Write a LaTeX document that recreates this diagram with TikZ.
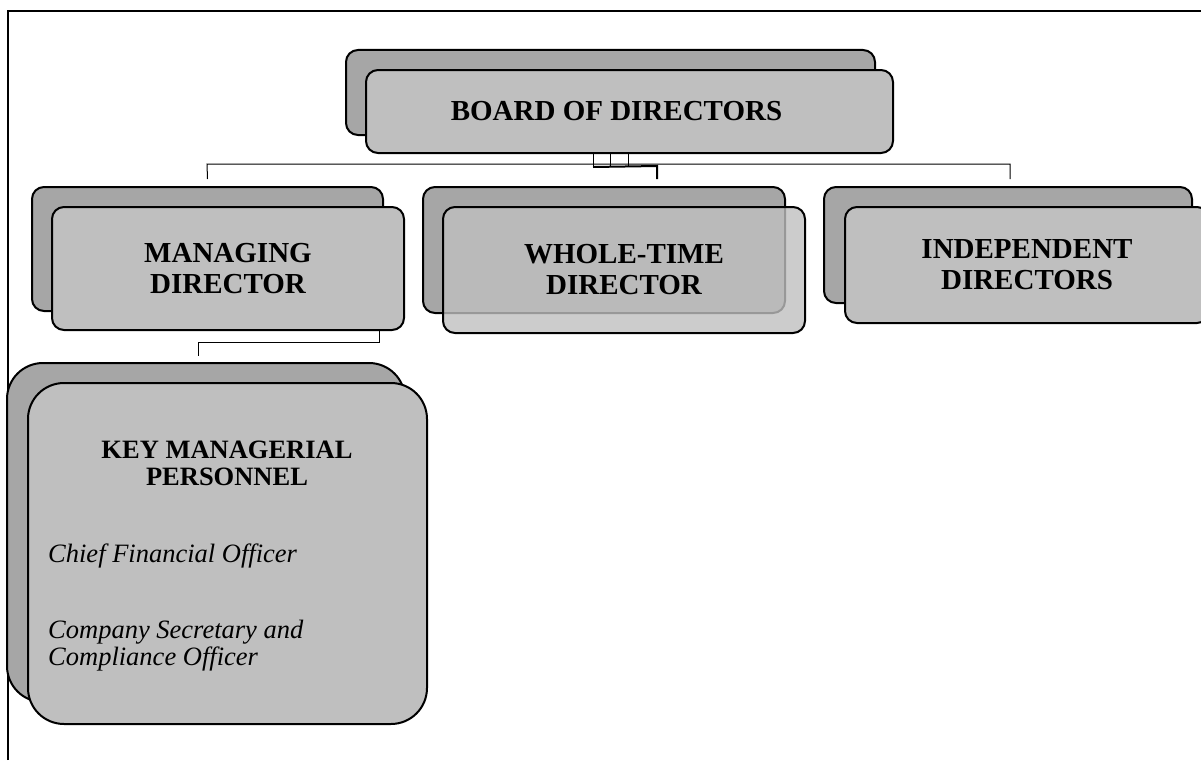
\documentclass[tikz,border=0pt]{standalone}
\usepackage{fontspec}
\setmainfont{Liberation Serif}
\usetikzlibrary{calc}
\definecolor{backgray}{HTML}{A6A6A6}
\definecolor{frontgray}{HTML}{BFBFBF}
\tikzset{
  backbox/.style={draw=black, line width=2pt, fill=backgray, rounded corners=12pt, inner sep=0pt},
  frontbox/.style={draw=black, line width=2pt, fill=frontgray, rounded corners=12pt, inner sep=0pt,
    align=center, font=\fontsize{29}{31}\selectfont\bfseries},
  bigback/.style={backbox, rounded corners=36pt},
  bigfront/.style={frontbox, rounded corners=36pt},
  link/.style={draw=black, line width=1pt},
  thicklink/.style={draw=black, line width=2pt},
  frameline/.style={draw=black, line width=2pt},
}
\begin{document}
\begin{tikzpicture}[x=1pt, y=-1pt]
\useasboundingbox (0,0) rectangle (1201,760);
% frame
\coordinate (fbl) at (8,760);
\coordinate (ftl) at (8,11);
\coordinate (ftr) at (1201,11);
\draw[frameline] (fbl) -- (ftl) -- (ftr);

% board
\node[backbox, minimum width=529pt, minimum height=85pt] (boardB) at (610.5,92.5) {};
\node[frontbox, minimum width=527pt, minimum height=83pt] (boardF) at (629.5,111.5) {BOARD OF DIRECTORS\hspace*{26pt}};

% managing director
\node[backbox, minimum width=351pt, minimum height=124pt] (mdB) at (207.5,249) {};
\node[frontbox, minimum width=352pt, minimum height=123pt] (mdF) at (228,268.5) {MANAGING\\DIRECTOR};

% whole-time director
\node[backbox, minimum width=362pt, minimum height=126pt] (wtB) at (604,250) {};
\node[frontbox, fill opacity=0.8, text opacity=1, minimum width=362pt, minimum height=126pt] (wtF) at (624,270) {WHOLE-TIME\\DIRECTOR};

% independent directors
\node[backbox, minimum width=368pt, minimum height=116pt] (idB) at (1008,245) {};
\node[frontbox, minimum width=364pt, minimum height=116pt] (idF) at (1027,265) {INDEPENDENT\\DIRECTORS};

% key managerial personnel
\node[bigback, minimum width=398pt, minimum height=339pt] (kmpB) at (206,532.5) {};
\node[bigfront, minimum width=399pt, minimum height=341pt] (kmpF) at (227.5,553.5) {};
\node[anchor=base, align=center, inner sep=0pt, font=\fontsize{26.5}{27}\selectfont\bfseries] (kmpT) at (227,485) {KEY MANAGERIAL\\PERSONNEL};
\node[anchor=base west, inner sep=0pt, font=\fontsize{26.5}{27}\selectfont\itshape] (cfo) at (48,562) {Chief Financial Officer};
\node[anchor=base west, inner sep=0pt, align=left, font=\fontsize{26.5}{27}\selectfont\itshape] (cs) at (48,665) {Company Secretary and\\Compliance Officer};

% connectors from board
\coordinate (busL) at (207,164);
\coordinate (busR) at (1010,164);
\coordinate (dropL) at ($(mdB.north)+(0,-7)$);
\coordinate (dropR) at ($(idB.north)+(2,-7)$);
\draw[link] (dropL) -- (busL) -- (busR) -- (dropR);
\coordinate (v1) at ($(boardF.south west)+(228,0)$);
\coordinate (v2) at ($(boardF.south west)+(245,0)$);
\coordinate (v3) at ($(boardF.south west)+(263,0)$);
\draw[link] (v1) -- ++(0,13);
\draw[link] (v2) -- ++(0,13);
\draw[link] (v3) -- ++(0,13);
\coordinate (tk1) at ($(v1)+(0,13)$);
\coordinate (tk2) at (657,166);
\coordinate (tk3) at ($(wtB.north)+(53,-7)$);
\draw[thicklink] (tk1) -- (tk2) -- (tk3);

% managing director to KMP
\coordinate (m1) at ($(mdF.south east)+(-26,0)$);
\coordinate (m2) at ($(m1)+(0,11)$);
\coordinate (m3) at (198,342);
\coordinate (m4) at ($(kmpB.north)+(-8,-6)$);
\draw[link] (m1) -- (m2) -- (m3) -- (m4);
\end{tikzpicture}
\end{document}
